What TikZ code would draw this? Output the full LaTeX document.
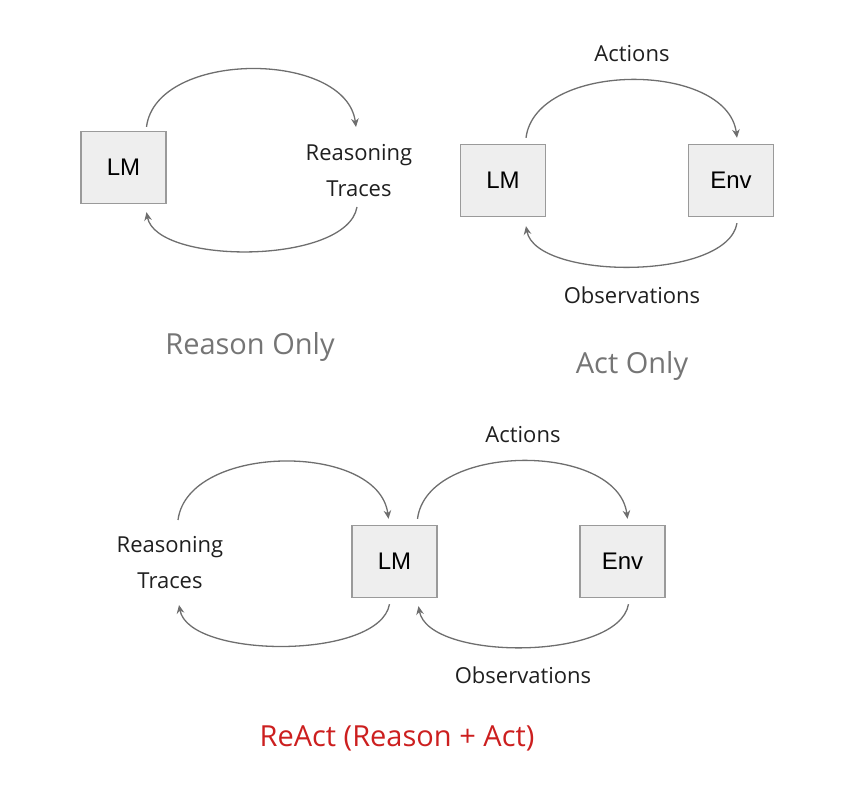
\documentclass[tikz,border=0pt]{standalone}
\usepackage{fontspec}
\setmainfont{Open Sans}
\newfontfamily\boxfont{Liberation Sans}
\usetikzlibrary{arrows.meta,calc}
\definecolor{boxfill}{HTML}{EEEEEE}
\definecolor{boxline}{HTML}{9A9A9A}
\definecolor{arcgray}{HTML}{6E6E6E}
\definecolor{ttlgray}{HTML}{757575}
\definecolor{reactred}{HTML}{CC1F1F}
\begin{document}
\begin{tikzpicture}[x=0.5pt, y=-0.5pt,
    box/.style={draw=boxline, fill=boxfill, line width=0.7pt, minimum width=42.5pt, minimum height=36pt, inner sep=0pt, font=\boxfont\fontsize{12}{14}\selectfont},
    lbl/.style={anchor=base, inner sep=0pt, text=black!88, font=\fontsize{11}{18}\selectfont},
    rtlbl/.style={align=center, inner sep=0pt, text=black!88, font=\fontsize{11}{18}\selectfont},
    ttl/.style={anchor=base, inner sep=0pt, font=\fontsize{14.5}{17}\selectfont},
    arcline/.style={draw=arcgray, line width=0.65pt, -{Stealth[length=4.2pt, width=3.8pt]}}]
  \useasboundingbox (0,0) rectangle (864,785);
  % reason only
  \node[box] (lm1) at (123.5,167.5) {LM};
  \node[rtlbl] (rt1) at (359,171) {Reasoning\\Traces};
  \node[ttl, text=ttlgray] (ttl1) at (250,355) {Reason Only};
  \draw[arcline] ($(lm1.north)+(23,-4)$) .. controls +(10,-77) and +(-10,-77) .. ($(rt1.center)+(-3,-44)$);
  \draw[arcline] ($(rt1.center)+(-2,36)$) .. controls +(-10,58) and +(10,53) .. ($(lm1.south)+(23,8)$);
  % act only
  \node[box] (lm2) at (503,180.5) {LM};
  \node[box] (env2) at (731,180.5) {Env};
  \node[lbl] (act2) at (632,62) {Actions};
  \node[lbl] (obs2) at (632,304) {Observations};
  \node[ttl, text=ttlgray] (ttl2) at (632,374) {Act Only};
  \draw[arcline] ($(lm2.north)+(23,-6)$) .. controls +(10,-77) and +(-10,-77) .. ($(env2.north)+(6,-6)$);
  \draw[arcline] ($(env2.south)+(6,6)$) .. controls +(-10,58) and +(10,54) .. ($(lm2.south)+(23,9)$);
  % react
  \node[box] (lm3) at (394.5,561.5) {LM};
  \node[box] (env3) at (622.5,561.5) {Env};
  \node[rtlbl] (rt3) at (170,563) {Reasoning\\Traces};
  \node[lbl] (act3) at (523,443) {Actions};
  \node[lbl] (obs3) at (523,684) {Observations};
  \node[ttl, text=reactred] (ttl3) at (397,747) {ReAct (Reason + Act)};
  \draw[arcline] ($(rt3.center)+(8,-43)$) .. controls +(10,-77) and +(-10,-77) .. ($(lm3.north)+(-6,-6)$);
  \draw[arcline] ($(lm3.north)+(23,-6)$) .. controls +(10,-77) and +(-10,-77) .. ($(env3.north)+(5,-6)$);
  \draw[arcline] ($(env3.south)+(6,6)$) .. controls +(-10,57) and +(10,55) .. ($(lm3.south)+(24,8)$);
  \draw[arcline] ($(lm3.south)+(-5,6)$) .. controls +(-10,56) and +(10,54) .. ($(rt3.center)+(9,42)$);
\end{tikzpicture}
\end{document}
